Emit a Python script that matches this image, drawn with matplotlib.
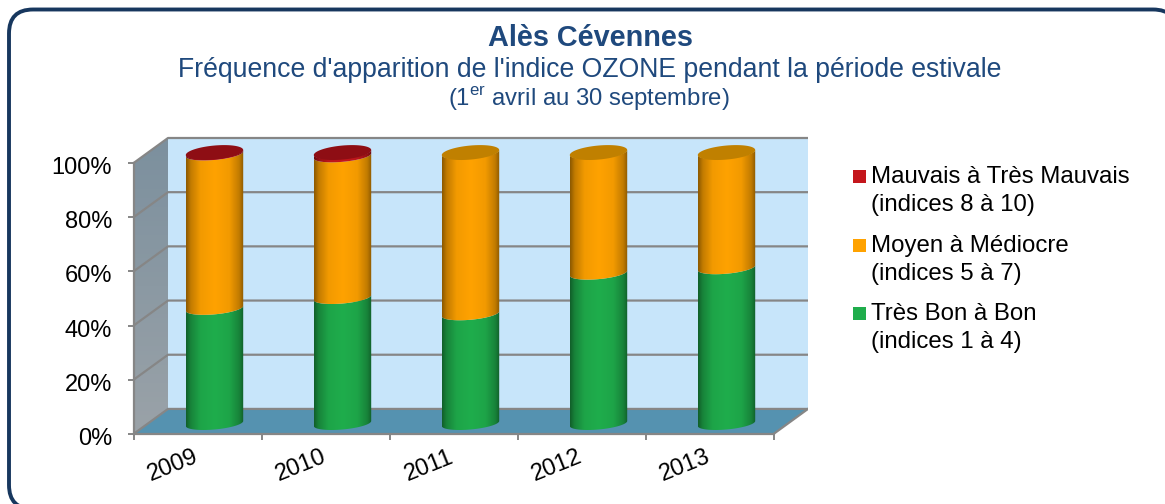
import numpy as np
import matplotlib
matplotlib.use('Agg')
from matplotlib import pyplot as plt
from matplotlib.patches import FancyBboxPatch, Polygon, Rectangle
from matplotlib.transforms import IdentityTransform, ScaledTranslation

plt.rcParams['font.family'] = ['Liberation Sans', 'DejaVu Sans']
plt.rcParams['mathtext.fontset'] = 'custom'
plt.rcParams['mathtext.rm'] = 'Liberation Sans'

# region Data
years = ['2009', '2010', '2011', '2012', '2013']
tres_bon = [42.5, 46.5, 40.5, 55.5, 57.5]
moyen = [57, 52.3, 59.5, 44.5, 42.5]
mauvais = [0.5, 1.2, 0, 0, 0]
y_ticks = [0, 20, 40, 60, 80, 100]
y_labels = ['0%', '20%', '40%', '60%', '80%', '100%']
legend_labels = ['Mauvais à Très Mauvais\n(indices 8 à 10)',
                 'Moyen à Médiocre\n(indices 5 à 7)',
                 'Très Bon à Bon\n(indices 1 à 4)']
# endregion

W, H = 1165, 504
NAVY = '#17375E'
TITLE = '#1F497D'
GREY = '#868686'
COLORS = {'green': ('#1FAD4C', '#1FAD4C'), 'orange': ('#FFA200', '#C08000'), 'red': ('#C4161C', '#8E0E14')}

# axes geometry in pixels
LEFT, RIGHT, BOTTOM, TOP = 133.5, 808, 434, 138
PX_X = 128.0
PX_Y = 2.7
DEPTH_X = (RIGHT - LEFT - 5 * PX_X) / PX_X
DEPTH_Y = 25.0 / PX_Y

fig = plt.figure(figsize=(W / 100, H / 100), dpi=100)
fig.patch.set_facecolor('white')
# the frame runs past the right and bottom edges of the picture
fig.add_artist(FancyBboxPatch((9, H - 509), 1168, 499.5, boxstyle='round,pad=0,rounding_size=24',
                              transform=IdentityTransform(), fc='white', ec=NAVY, lw=2.8, zorder=-1))

ax = fig.add_axes([LEFT / W, 1 - BOTTOM / H, (RIGHT - LEFT) / W, (BOTTOM - TOP) / H])
ax.patch.set_visible(False)
x_lo, x_hi = -0.5, 4.5 + DEPTH_X
y_lo, y_hi = 0, 100 + DEPTH_Y


def depth(x, y):
    return (x + DEPTH_X, y + DEPTH_Y)


# region Walls and floor
ax.add_patch(Rectangle(depth(-0.5, 0), 5, 100, fc='#C7E5FA', ec='none', zorder=1))
side_shape = Polygon([(-0.5, 0), depth(-0.5, 0), depth(-0.5, 100), (-0.5, 100)],
                     transform=ax.transData, fc='none', ec='none')
side = ax.imshow(np.linspace(0, 1, 64).reshape(-1, 1), extent=(-0.5, -0.5 + DEPTH_X, 0, y_hi), origin='upper',
                 aspect='auto', zorder=1,
                 cmap=matplotlib.colors.LinearSegmentedColormap.from_list('side', ['#7C909E', '#9AA2A8']))
side.set_clip_path(side_shape)
ax.add_patch(Polygon([(-0.5, 0), (4.5, 0), depth(4.5, 0), depth(-0.5, 0)], fc='#5592B0', ec='none', zorder=2))
for v in y_ticks:
    ax.plot([-0.5, depth(-0.5, v)[0], depth(4.5, v)[0]], [v, v + DEPTH_Y, v + DEPTH_Y],
            color=GREY, lw=1.6, zorder=3, clip_on=False, solid_capstyle='butt')
ax.plot([4.5, depth(4.5, 0)[0]], [0, DEPTH_Y], color=GREY, lw=1.6, zorder=3)
# endregion

# region Cylinders
RX = 28.7 / PX_X
RY_BODY = 6.0 / PX_Y
RY_CAP = 7.0 / PX_Y
TILT = 2.5 / PX_Y
CX = 17.0 / PX_X
CY = 10.5 / PX_Y
shade_x = np.linspace(0, 1, 128)
shade = np.interp(shade_x, [0, 0.08, 0.25, 0.5, 0.75, 0.92, 1], [0.55, 0.76, 0.95, 1, 0.95, 0.76, 0.55])


def ring(i, v, t, ry):
    return i + CX + RX * np.cos(t), v + CY + ry * np.sin(t) + TILT * np.cos(t)


def cylinder(i, v0, v1, color):
    if v1 <= v0:
        return
    front = np.linspace(np.pi, 2 * np.pi, 60)
    bx, by = ring(i, v0, front, RY_BODY)
    tx, ty = ring(i, v1, front[::-1], RY_BODY)
    shape = Polygon(np.column_stack([np.r_[bx, tx], np.r_[by, ty]]), transform=ax.transData)
    rgb = np.array(matplotlib.colors.to_rgb(COLORS[color][0]))
    img = ax.imshow((shade[:, None] * rgb)[None, :, :], aspect='auto', zorder=5, interpolation='bilinear',
                    extent=(i + CX - RX, i + CX + RX, v0 + CY - RY_CAP - TILT, v1 + CY + RY_CAP + TILT))
    img.set_clip_path(shape)


def cap(i, v, color):
    t = np.linspace(0, 2 * np.pi, 120)
    ax.add_patch(Polygon(np.column_stack(ring(i, v, t, RY_CAP)), fc=COLORS[color][1], ec='none', zorder=6))


for i in range(len(years)):
    g, o, r = tres_bon[i], moyen[i], mauvais[i]
    cylinder(i, 0, g, 'green')
    # later segments sit on top so that their lower edge curves over the one below
    cylinder(i, g, g + o, 'orange')
    cylinder(i, g + o, g + o + r, 'red')
    cap(i, g + o + r, 'red' if r > 0 else 'orange')
# endregion

# region Axes, ticks and labels
ax.set_xlim(x_lo, x_hi)
ax.set_ylim(y_lo, y_hi)
for name in ['top', 'right']:
    ax.spines[name].set_visible(False)
ax.spines['left'].set_bounds(0, 100)
ax.spines['bottom'].set_bounds(-0.5, 4.5)
for name in ['left', 'bottom']:
    ax.spines[name].set_color(GREY)
    ax.spines[name].set_linewidth(1.6)
    ax.spines[name].set_zorder(4)
ax.set_yticks(y_ticks)
ax.set_yticklabels(y_labels, fontsize=17)
ax.set_xticks(np.arange(-0.5, 5, 1))
ax.set_xticklabels([])
ax.tick_params(color=GREY, width=1.4, length=4.5)
ax.tick_params(axis='y', pad=11)
shift_down = ScaledTranslation(0, -2.5 / 100, fig.dpi_scale_trans)
for lbl in ax.get_yticklabels():
    lbl.set_transform(lbl.get_transform() + shift_down)
for i, year in enumerate(years):
    ax.annotate(year, xy=(i, 0), xytext=(-24.5, -31.5), textcoords='offset pixels',
                rotation=22, ha='center', va='center', fontsize=17, color='black')
# endregion

# region Titles
fig.text(590 / W, 1 - 38 / H, 'Alès Cévennes', ha='center', va='center', fontsize=20.8, fontweight='bold', color=TITLE)
fig.text(590 / W, 1 - 70 / H, "Fréquence d'apparition de l'indice OZONE pendant la période estivale",
         ha='center', va='center', fontsize=19.2, color=TITLE)
fig.text(589 / W, 1 - 99 / H, r'(1$^{\mathrm{er}}$ avril au 30 septembre)',
         ha='center', va='center', fontsize=17.2, color=TITLE)
# endregion

# region Legend
legend_colors = ['#C4161C', '#FFA200', '#1FAD4C']
legend_y = [176, 245, 313]
for label, c, y in zip(legend_labels, legend_colors, legend_y):
    fig.add_artist(Rectangle((853 / W, 1 - (y + 6.5) / H), 13 / W, 13 / H, fc=c, ec='none', transform=fig.transFigure))
    fig.text(871 / W, 1 - (y - 10) / H, label, ha='left', va='top', fontsize=17.3, linespacing=1.36, color='black')
# endregion

fig.savefig('out.png', dpi=100)
